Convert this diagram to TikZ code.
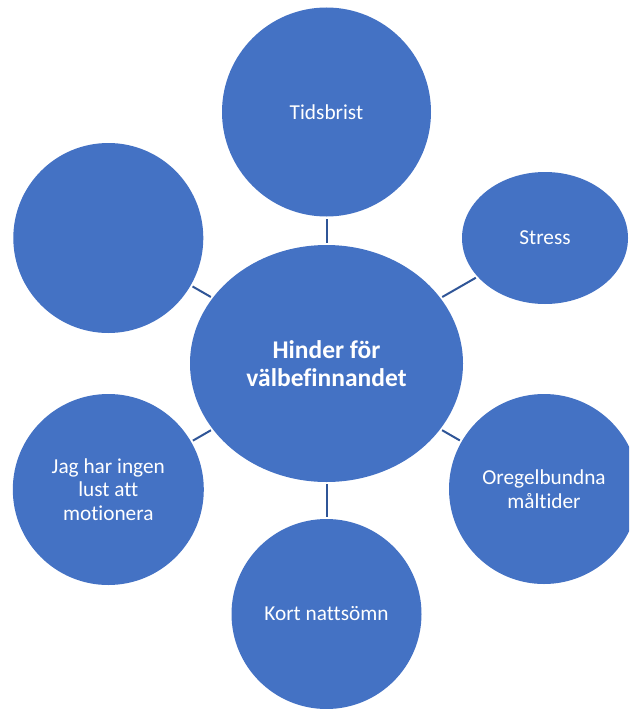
\documentclass[tikz,border=0pt]{standalone}
\usepackage{fontspec}
\setmainfont{Carlito}[Ligatures=CommonOff]
\usetikzlibrary{shapes.geometric}
\definecolor{bubblefill}{RGB}{68,114,196}
\definecolor{linkcol}{RGB}{47,85,151}
\begin{document}
\begin{tikzpicture}[x=1pt,y=-1pt,
  bubble/.style={circle,fill=bubblefill,inner sep=0pt,text=white,align=center,font=\fontsize{21.3}{23.5}\selectfont},
  oval/.style={ellipse,fill=bubblefill,inner sep=0pt,text=white,align=center,font=\fontsize{21.3}{23.5}\selectfont},
  linkline/.style={draw=linkcol,line width=2pt,shorten <=2pt,shorten >=2pt}]
\useasboundingbox (0,0) rectangle (629,709);
\clip (0,0) rectangle (629,709);
\node[oval, minimum width=273pt, minimum height=237pt, font=\bfseries\fontsize{25.5}{28.5}\selectfont] (hub) at (326.5,363.5) {Hinder för\\välbefinnandet};
\node[bubble, minimum size=209pt] (tid) at (326.5,112) {Tidsbrist};
\node[bubble, minimum size=190pt] (blank) at (108.3,238) {};
\node[oval, minimum width=166pt, minimum height=132pt] (stress) at (545,238) {Stress};
\node[bubble, minimum size=190pt] (oreg) at (544,489) {Oregelbundna\\måltider};
\node[bubble, minimum size=190pt] (kort) at (326.5,614) {Kort nattsömn};
\node[bubble, minimum size=191pt] (jag) at (108.3,489.5) {Jag har ingen\\lust att\\motionera};
\draw[linkline] (hub) -- (tid);
\draw[linkline] (hub) -- (blank);
\draw[linkline] (hub) -- (stress);
\draw[linkline] (hub) -- (oreg);
\draw[linkline] (hub) -- (kort);
\draw[linkline] (hub) -- (jag);
\end{tikzpicture}
\end{document}
